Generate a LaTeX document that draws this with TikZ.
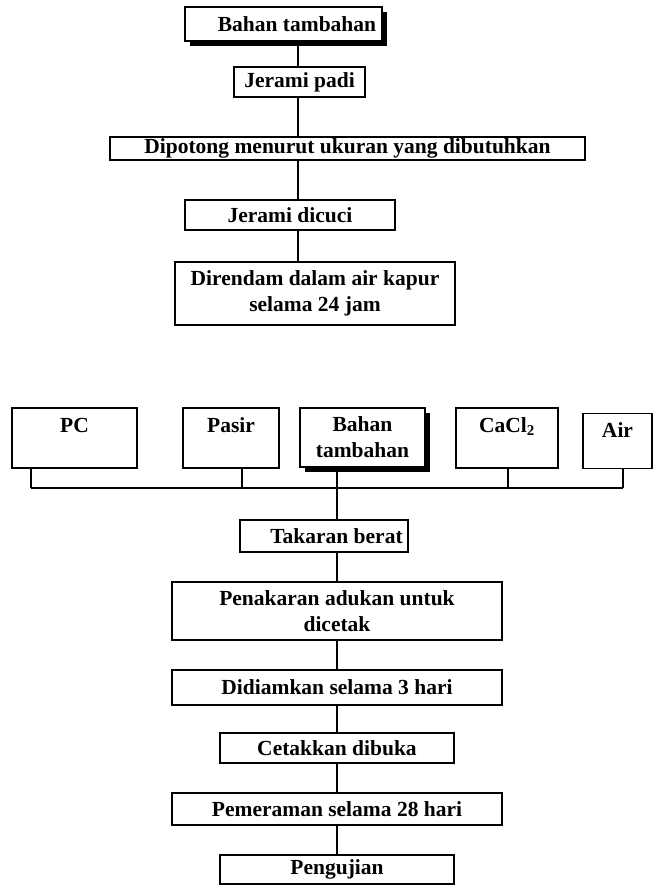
\documentclass[tikz,border=0pt]{standalone}
\usepackage{fontspec}
\setmainfont{Liberation Serif}
\usetikzlibrary{shadows}

\tikzset{
  box/.style={draw, fill=white, line width=1.4pt, inner sep=0pt,
    font=\fontsize{21.5}{26}\selectfont\bfseries},
  shadowbox/.style={box, general shadow={fill=black, shadow xshift=5pt, shadow yshift=-5pt}},
  link/.style={line width=1.6pt},
}

\begin{document}
\begin{tikzpicture}[x=1pt,y=-1pt]
  \useasboundingbox (0,0) rectangle (654,886);
  % preparation of the straw
  \coordinate (colT) at (298,0);
  \node[shadowbox, minimum width=197, minimum height=34, inner xsep=5pt] (bahanA) at (283.5,24) {\hspace*{27pt}Bahan tambahan};
  \node[box, minimum width=131, minimum height=30] (jerPadi) at (299.5,82) {Jerami padi};
  \node[box, minimum width=475, minimum height=23] (potong) at (347.5,148.5) {Dipotong menurut ukuran yang dibutuhkan};
  \node[box, minimum width=210, minimum height=30] (jerCuci) at (290,215) {Jerami dicuci};
  \node[box, minimum width=280, minimum height=63, align=center] (rendam) at (315,293.5) {Direndam dalam air kapur\\selama 24 jam};
  \draw[link] (bahanA.south -| colT) -- (jerPadi.north -| colT);
  \draw[link] (jerPadi.south -| colT) -- (potong.north -| colT);
  \draw[link] (potong.south -| colT) -- (jerCuci.north -| colT);
  \draw[link] (jerCuci.south -| colT) -- (rendam.north -| colT);
  % materials
  \node[box, minimum width=125, minimum height=60, align=center] (pc) at (74.5,438) {PC\\~};
  \node[box, minimum width=96, minimum height=60, align=center] (pasir) at (231,438) {Pasir\\~};
  \node[shadowbox, minimum width=125, minimum height=59, align=center] (bahanB) at (362.5,437.5) {Bahan\\tambahan};
  \node[box, minimum width=102, minimum height=60, align=center] (cacl) at (507,438) {CaCl\textsubscript{2}\\~};
  \node[box, minimum width=69, minimum height=55, align=center] (air) at (617.5,441) {Air\\[-4pt]~};
  \coordinate (busL) at (31,488);
  \coordinate (busP) at (242,488);
  \coordinate (busC) at (508,488);
  \coordinate (busR) at (623,488);
  \coordinate (colB) at (337,488);
  \draw[link] (busL) -- (busR);
  \draw[link] (pc.south -| busL) -- (busL);
  \draw[link] (pasir.south -| busP) -- (busP);
  \draw[link] (cacl.south -| busC) -- (busC);
  \draw[link] (air.south -| busR) -- (busR);
  % mixing and curing
  \node[box, minimum width=168, minimum height=32, inner xsep=4pt] (takaran) at (324,536) {\hspace*{25pt}Takaran berat};
  \node[box, minimum width=330, minimum height=58, align=center] (penakaran) at (337,611) {Penakaran adukan untuk\\dicetak};
  \node[box, minimum width=330, minimum height=35] (diam) at (337,687.5) {Didiamkan selama 3 hari};
  \node[box, minimum width=234, minimum height=30] (cetak) at (337,748) {Cetakkan dibuka};
  \node[box, minimum width=330, minimum height=32] (peram) at (337,809) {Pemeraman selama 28 hari};
  \node[box, minimum width=234, minimum height=29] (uji) at (337,869.5) {Pengujian};
  \draw[link] (bahanB.south -| colB) -- (takaran.north -| colB);
  \draw[link] (takaran.south -| colB) -- (penakaran.north -| colB);
  \draw[link] (penakaran.south -| colB) -- (diam.north -| colB);
  \draw[link] (diam.south -| colB) -- (cetak.north -| colB);
  \draw[link] (cetak.south -| colB) -- (peram.north -| colB);
  \draw[link] (peram.south -| colB) -- (uji.north -| colB);
\end{tikzpicture}
\end{document}
